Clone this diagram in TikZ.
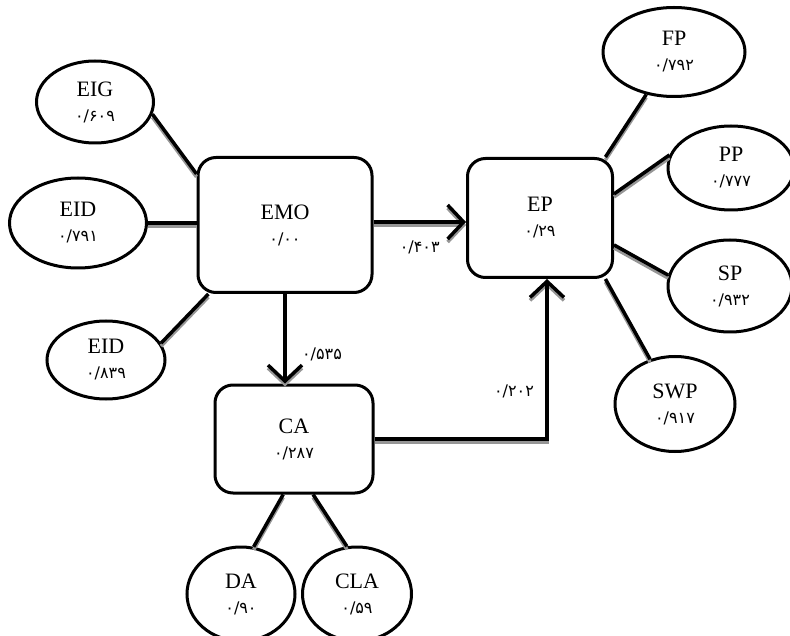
\documentclass[tikz,border=0pt]{standalone}
\usepackage{fontspec}
\setmainfont{Liberation Serif}
\newfontfamily\fanum[Script=Arabic]{DejaVu Sans}
\usetikzlibrary{shapes.geometric,arrows.meta}
\definecolor{ShadowColor}{RGB}{150,150,150}
\newcommand{\val}[1]{{\fanum\fontsize{16}{18}\selectfont #1}}

\begin{document}
\begin{tikzpicture}[x=1pt, y=-1pt,
    font=\fontsize{22}{25}\selectfont,
    construct/.style={draw, line width=3pt, rounded corners=18pt, align=center, inner sep=0pt},
    indicator/.style={draw, ellipse, line width=3pt, align=center, inner sep=0pt},
    link/.style={line width=3.5pt,
        preaction={draw=ShadowColor, line width=3.5pt, transform canvas={yshift=-3pt}}},
    effect/.style={link, -{Straight Barb[length=16pt, width=34pt]}}]

    \useasboundingbox (0,0) rectangle (790,636);

    \node[construct, minimum width=174pt, minimum height=135pt] (EMO) at (285,225) {EMO\\\val{۰/۰۰}};
    \node[construct, minimum width=145pt, minimum height=119pt] (EP) at (540,218) {EP\\\val{۰/۲۹}};
    \node[construct, minimum width=158pt, minimum height=108pt] (CA) at (294,439) {CA\\\val{۰/۲۸۷}};

    \node[indicator, minimum width=117pt, minimum height=82pt] (EIG) at (95,102) {EIG\\\val{۰/۶۰۹}};
    \node[indicator, minimum width=137pt, minimum height=90pt] (EIDa) at (78,223) {EID\\\val{۰/۷۹۱}};
    \node[indicator, minimum width=118pt, minimum height=78pt] (EIDb) at (106,360) {EID\\\val{۰/۸۳۹}};

    \node[indicator, minimum width=142pt, minimum height=89pt] (FP) at (674,52) {FP\\\val{۰/۷۹۲}};
    \node[indicator, minimum width=126pt, minimum height=84pt] (PP) at (731,168) {PP\\\val{۰/۷۷۷}};
    \node[indicator, minimum width=124pt, minimum height=92pt] (SP) at (730,286) {SP\\\val{۰/۹۳۲}};
    \node[indicator, minimum width=120pt, minimum height=95pt] (SWP) at (675,404) {SWP\\\val{۰/۹۱۷}};

    \node[indicator, minimum width=108pt, minimum height=94pt] (DA) at (241,594) {DA\\\val{۰/۹۰}};
    \node[indicator, minimum width=109pt, minimum height=94pt] (CLA) at (357,594) {CLA\\\val{۰/۵۹}};

    \coordinate (EPin) at ([yshift=-4pt]EP.west);

    \foreach \from/\to in {
        EIG.-12/EMO.150, EIDb.17/EMO.222,
        EP.43/FP, EP.18/PP.168, EP.-20/SP.170, EP.-43/SWP,
        CA.259/DA.75, CA.289/CLA.102}
    \draw[link] (\from) -- (\to);
    \draw[link] (EIDa.east) -- (EIDa.east -| EMO.west);

    \draw[effect] (EMO.east |- EPin) -- node[below=14pt] {\val{۰/۴۰۳}} (EPin);
    \draw[effect] (EMO.south) -- node[pos=0.67, right=12pt] {\val{۰/۵۳۵}} (EMO.south |- CA.north);
    \draw[effect] (CA.east) -| node[pos=0.65, left=8pt] {\val{۰/۲۰۲}} ([xshift=7pt]EP.south);

\end{tikzpicture}
\end{document}
